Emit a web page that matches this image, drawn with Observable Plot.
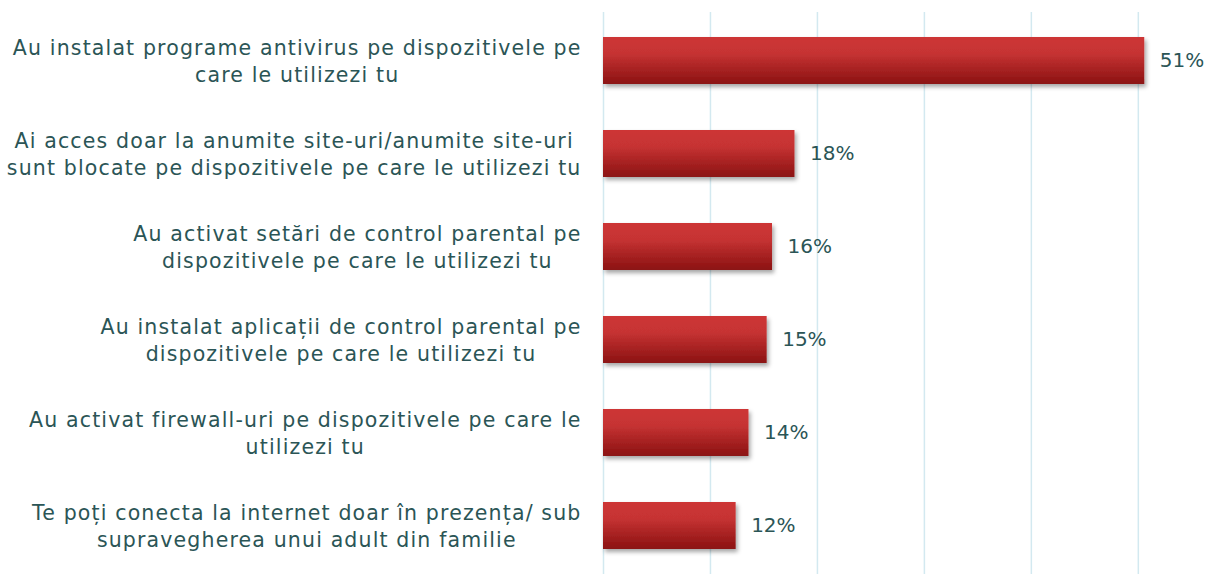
<!DOCTYPE html>
<html><head><meta charset="utf-8">
<script src="https://cdn.jsdelivr.net/npm/d3@7"></script>
<script src="https://cdn.jsdelivr.net/npm/@observablehq/plot@0.6"></script>
<style>body{margin:0;background:#fff;}</style>
</head><body><div id="chart"></div>
<script>
const categories = [
  "Au instalat programe antivirus pe dispozitivele pe\ncare le utilizezi tu",
  "Ai acces doar la anumite site-uri/anumite site-uri\nsunt blocate pe dispozitivele pe care le utilizezi tu",
  "Au activat setări de control parental pe\ndispozitivele pe care le utilizezi tu",
  "Au instalat aplicații de control parental pe\ndispozitivele pe care le utilizezi tu",
  "Au activat firewall-uri pe dispozitivele pe care le\nutilizezi tu",
  "Te poți conecta la internet doar în prezența/ sub\nsupravegherea unui adult din familie"
];
const values = [50.6, 17.9, 15.8, 15.3, 13.6, 12.4];
const valueLabels = ["51%", "18%", "16%", "15%", "14%", "12%"];
const gridTicks = [0, 10, 20, 30, 40, 50];

const data = categories.map((c, i) => ({category: c, value: values[i], label: valueLabels[i]}));

const textColor = "#2b5556";
const font = "'DejaVu Sans', sans-serif";

function defs() {
  const d = d3.create("svg:defs");
  const g = d.append("linearGradient").attr("id", "barGrad").attr("x1", 0).attr("y1", 0).attr("x2", 0).attr("y2", 1);
  g.append("stop").attr("offset", "0%").attr("stop-color", "#cd3636");
  g.append("stop").attr("offset", "35%").attr("stop-color", "#c63333");
  g.append("stop").attr("offset", "100%").attr("stop-color", "#8b1212");
  const f = d.append("filter").attr("id", "barShadow").attr("x", "-5%").attr("y", "-20%").attr("width", "115%").attr("height", "150%");
  f.append("feDropShadow").attr("dx", 2).attr("dy", 3).attr("stdDeviation", 2).attr("flood-color", "#000").attr("flood-opacity", 0.35);
  return d.node();
}

const plot = Plot.plot({
  width: 1209,
  height: 574,
  marginLeft: 603,
  marginRight: 7,
  marginTop: 12,
  marginBottom: 0,
  x: {domain: [0, 56], axis: null},
  y: {domain: categories, axis: null, paddingInner: 0.5, paddingOuter: 0.25},
  style: {fontFamily: font, background: "#fff"},
  marks: [
    defs,
    Plot.ruleX(gridTicks, {stroke: "#d3e9f0", strokeWidth: 1.5}),
    Plot.barX(data, {x: "value", y: "category", fill: "url(#barGrad)"}),
    Plot.text(data, {x: "value", y: "category", text: "label", textAnchor: "start", dx: 15, fontSize: 20, fill: textColor}),
    Plot.text(data, {x: 0, y: "category", text: "category", textAnchor: "middle", dy: -1, fontSize: 20.5, lineHeight: 1.28, fill: textColor})
  ]
});

document.getElementById("chart").appendChild(plot);

const svg = d3.select(plot);
svg.selectAll("g[aria-label=bar]").attr("filter", "url(#barShadow)");
// right-align each centered label block to x = 580
const groups = svg.selectAll("g[aria-label=text]").nodes();
const labelGroup = d3.select(groups[groups.length - 1]).style("letter-spacing", "1.15px");
const rightEdge = 581;
labelGroup.selectAll("text").each(function() {
  const bb = this.getBBox();
  const tr = this.getAttribute("transform") || "";
  const m = /translate\(([-\d.]+)/.exec(tr);
  const tx = m ? +m[1] : 0;
  const shift = rightEdge - (tx + bb.x + bb.width);
  this.setAttribute("transform", tr + ` translate(${shift},0)`);
});
</script>
</body></html>
